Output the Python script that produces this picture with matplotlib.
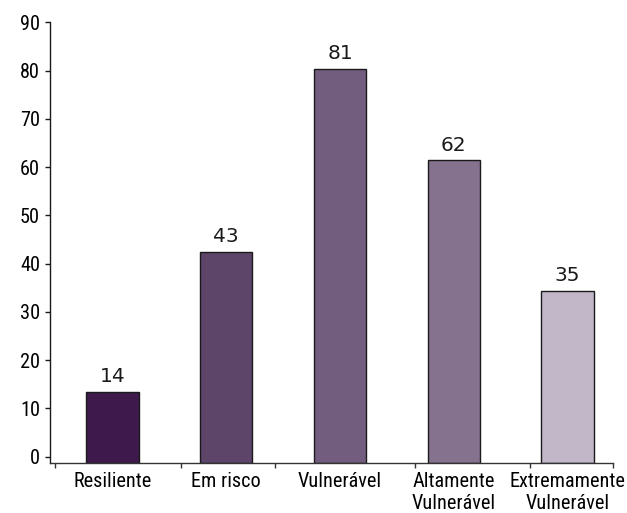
import numpy as np
import matplotlib
matplotlib.use("Agg")
import matplotlib.pyplot as plt

# dados
categories = ["Resiliente", "Em risco", "Vulnerável", "Altamente\nVulnerável", "Extremamente\nVulnerável"]
values = [14, 43, 81, 62, 35]
colors = ["#3d1a4b", "#5d4469", "#735d7f", "#85728f", "#c1b7c9"]
y_ticks = [0, 10, 20, 30, 40, 50, 60, 70, 80, 90]
# marcas do eixo x (fronteiras, desalinhadas como no original)
x_marks = [-0.505, 0.602, 1.43, 2.66, 3.67, 4.40]

narrow = ["Roboto Condensed", "DejaVu Sans"]

fig = plt.figure(figsize=(6.27, 5.13), dpi=100)
ax = fig.add_axes([0.0797, 0.0984, 0.898, 0.8581])

y_floor = -1.2
x = np.arange(len(values))
heights = [v - y_floor - 0.6 for v in values]
ax.bar(x, heights, bottom=y_floor, width=0.46, color=colors,
       edgecolor="#1a1a1a", linewidth=1.0, zorder=2)

for xi, h, v in zip(x, heights, values):
    ax.annotate(str(v), (xi, y_floor + h), xytext=(0, 7), textcoords="offset points",
                ha="center", va="baseline", fontsize=14.5, family="DejaVu Sans",
                color="#1a1a1a")

ax.set_xlim(-0.55, 4.40)
ax.set_ylim(y_floor, 90)

for s in ["top", "right"]:
    ax.spines[s].set_visible(False)
ax.spines["left"].set_color("#1a1a1a")
ax.spines["bottom"].set_color("#333333")
ax.spines["left"].set_linewidth(1.0)
ax.spines["bottom"].set_linewidth(1.0)

ax.set_yticks(y_ticks)
ax.set_yticklabels([str(t) for t in y_ticks], family=narrow, fontsize=14.6)
ax.tick_params(axis="y", length=3.6, width=1.0, pad=3.6, color="#1a1a1a")

ax.set_xticks(x)
ax.set_xticklabels(categories, family=narrow, fontsize=14.6, linespacing=1.2)
ax.tick_params(axis="x", which="major", length=0, pad=7)
ax.set_xticks(x_marks, minor=True)
ax.tick_params(axis="x", which="minor", length=3.5, width=1.0, direction="out", color="#333333")

fig.savefig("out.png", dpi=100)
